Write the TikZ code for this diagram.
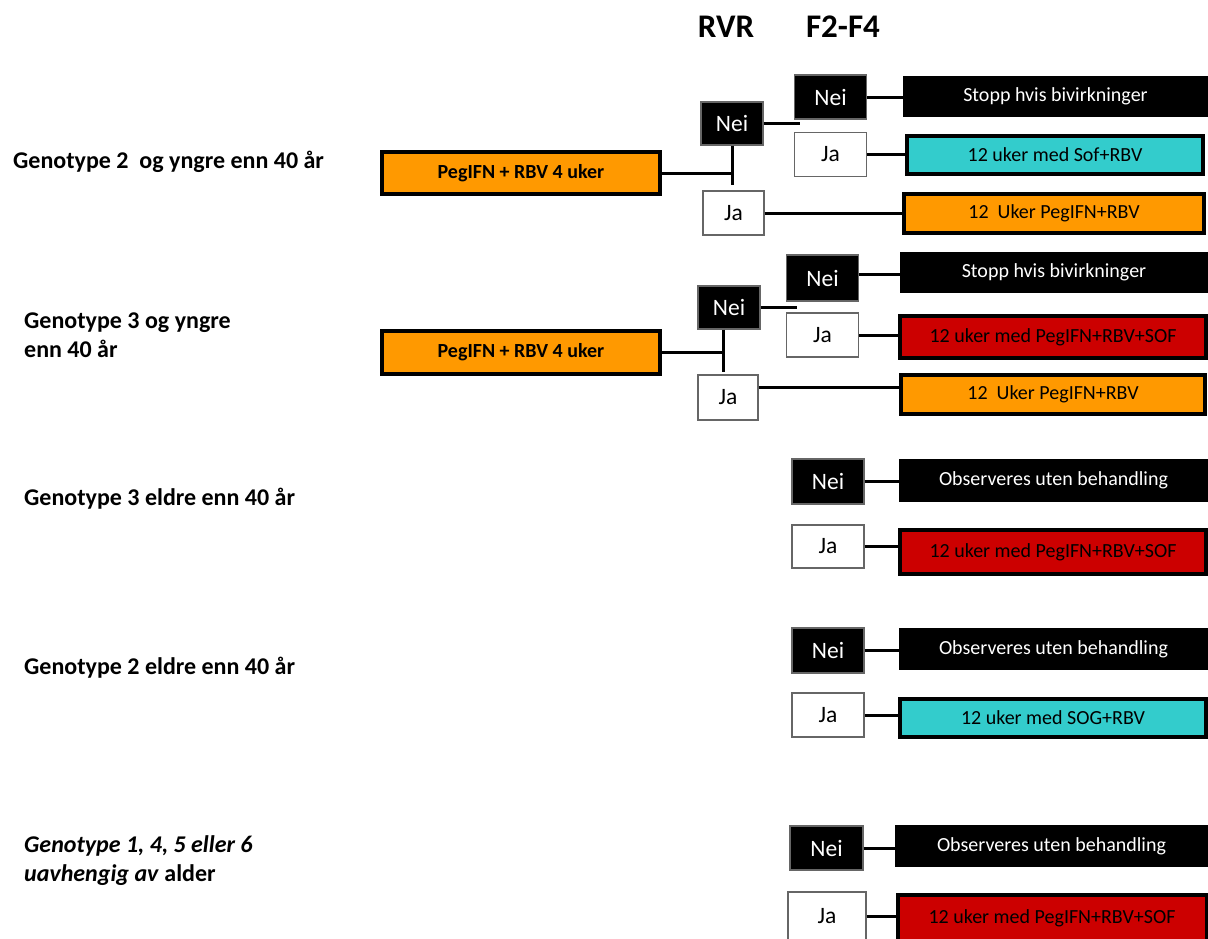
\documentclass[tikz,border=0pt]{standalone}
\usepackage{fontspec}
\setmainfont{Carlito}
\definecolor{peg}{HTML}{FF9900}
\definecolor{sof}{HTML}{33CCCC}
\definecolor{trip}{HTML}{CC0000}
\begin{document}
\begin{tikzpicture}[x=1pt,y=-1pt,
  svar/.style={draw=black!60,line width=1.2pt,inner sep=0pt,minimum width=72pt,minimum height=44pt,font=\fontsize{23.5}{27}\selectfont},
  nei/.style={svar,fill=black,text=white},
  ja/.style={svar,fill=white},
  kur/.style={draw=black,line width=4pt,inner sep=0pt,minimum width=302pt,minimum height=40pt,font=\fontsize{20}{24}\selectfont},
  slutt/.style={fill=black,text=white,inner sep=0pt,minimum width=309pt,minimum height=42pt,font=\fontsize{20}{24}\selectfont},
  start/.style={kur,fill=peg,minimum width=278pt,minimum height=42pt,font=\bfseries\fontsize{20}{24}\selectfont},
  gren/.style={line width=3pt},
  gruppe/.style={anchor=west,align=left,inner sep=0pt,font=\bfseries\fontsize{24}{29}\selectfont}]
\useasboundingbox (0,0) rectangle (1208,938);

\node[font=\bfseries\fontsize{33}{37}\selectfont] (rvr) at (726,27) {RVR};
\node[font=\bfseries\fontsize{33}{37}\selectfont] (fib) at (843,27) {F2-F4};

\node[gruppe] (g1) at (13,162) {Genotype 2\ \ og yngre enn 40 år};
\node[gruppe] (g2) at (24,335) {Genotype 3 og yngre\\enn 40 år};
\node[gruppe] (g3) at (24,499) {Genotype 3 eldre enn 40 år};
\node[gruppe] (g4) at (24,668) {Genotype 2 eldre enn 40 år};
\node[gruppe] (g5) at (24,861) {\textit{Genotype 1, 4, 5 eller 6}\\\textit{uavhengig av} alder};

\node[start] (peg1) at (521,173) {PegIFN + RBV 4 uker};
\node[nei,minimum width=62pt,minimum height=43pt] (n1) at (732,123.5) {Nei};
\node[ja,minimum width=61pt] (j1) at (733.5,213) {Ja};
\node[nei] (nf1) at (830.5,97) {Nei};
\node[ja] (jf1) at (830.5,154.5) {Ja};
\node[slutt,minimum width=305pt,minimum height=41pt] (s1) at (1055.5,96.5) {Stopp hvis bivirkninger};
\node[kur,fill=sof,minimum width=296pt,minimum height=38pt] (c1) at (1055,155) {12 uker med Sof+RBV};
\node[kur,fill=peg,minimum width=300pt,minimum height=39pt] (o1) at (1054,213.5) {12\ \ Uker PegIFN+RBV};
\coordinate (k1) at (732,185);
\coordinate (e1) at (800,123.5);
\draw[gren] (peg1.east) -- (peg1.east -| n1.south);
\draw[gren] (n1.south) -- (k1);
\draw[gren] (n1.east) -- (e1);
\draw[gren] (j1.east) -- (j1.east -| o1.west);
\draw[gren] (nf1.east) -- (nf1.east -| s1.west);
\draw[gren] (jf1.east) -- (jf1.east -| c1.west);

\node[start,minimum height=43pt] (peg2) at (521,352.5) {PegIFN + RBV 4 uker};
\node[nei,minimum width=62pt,minimum height=43pt] (n2) at (729,307.5) {Nei};
\node[ja,minimum width=60pt,minimum height=45pt] (j2) at (728,397.5) {Ja};
\node[nei,minimum height=46pt] (nf2) at (822.5,278) {Nei};
\node[ja] (jf2) at (822.5,335) {Ja};
\node[slutt,minimum width=308pt,minimum height=41pt] (s2) at (1054,272.5) {Stopp hvis bivirkninger};
\node[kur,fill=trip,minimum width=306pt,minimum height=42pt] (r2) at (1053,337) {12 uker med PegIFN+RBV+SOF};
\node[kur,fill=peg,minimum width=304pt,minimum height=39pt] (o2) at (1053,394.5) {12\ \ Uker PegIFN+RBV};
\coordinate (v2) at (723,352.5);
\coordinate (k2) at (723,372);
\coordinate (e2) at (797,307.5);
\draw[gren] (peg2.east) -- (v2);
\draw[gren] (v2 |- n2.south) -- (k2);
\draw[gren] (n2.east) -- (e2);
\draw[gren] ([yshift=10pt]j2.east) -- ([yshift=10pt]j2.east -| o2.west);
\draw[gren] ([yshift=4pt]nf2.east) -- ([yshift=4pt]nf2.east -| s2.west);
\draw[gren] (jf2.east) -- (jf2.east -| r2.west);

\node[nei,minimum height=45pt] (n3) at (828,481.5) {Nei};
\node[slutt,minimum height=43pt] (obs3) at (1053.5,480.5) {Observeres uten behandling};
\node[ja,minimum height=43pt] (j3) at (828,546.5) {Ja};
\node[kur,fill=trip,minimum width=306pt,minimum height=44pt] (r3) at (1053,552) {12 uker med PegIFN+RBV+SOF};
\draw[gren] (n3.east) -- (n3.east -| obs3.west);
\draw[gren] (j3.east) -- (j3.east -| r3.west);

\node[nei,minimum height=45pt] (n4) at (828,650.5) {Nei};
\node[slutt] (obs4) at (1053.5,649) {Observeres uten behandling};
\node[ja] (j4) at (828,715) {Ja};
\node[kur,fill=sof,minimum width=306pt,minimum height=38pt] (c4) at (1053,718) {12 uker med SOG+RBV};
\draw[gren] (n4.east) -- (n4.east -| obs4.west);
\draw[gren] (j4.east) -- (j4.east -| c4.west);

\node[nei,minimum width=73pt] (n5) at (826.5,848) {Nei};
\node[slutt,minimum width=313pt] (obs5) at (1051.5,846) {Observeres uten behandling};
\node[ja,minimum width=78pt,minimum height=48pt] (j5) at (827,916) {Ja};
\node[kur,fill=trip,minimum width=309pt,minimum height=46pt] (r5) at (1052,918) {12 uker med PegIFN+RBV+SOF};
\draw[gren] (n5.east) -- (n5.east -| obs5.west);
\draw[gren] (j5.east) -- (j5.east -| r5.west);
\end{tikzpicture}
\end{document}
